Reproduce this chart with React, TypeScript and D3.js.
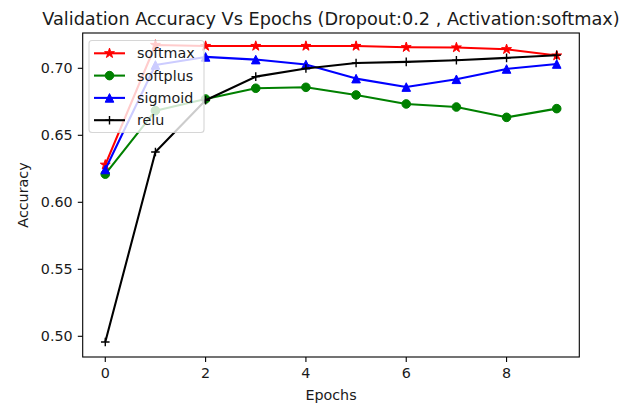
import React from "react";
import * as d3 from "d3";

// Validation accuracy per epoch for each output activation
const epochs = [0, 1, 2, 3, 4, 5, 6, 7, 8, 9];
const softmaxAcc = [0.628, 0.7174, 0.7166, 0.7166, 0.7166, 0.7166, 0.7157, 0.7155, 0.7142, 0.7095];
const softplusAcc = [0.621, 0.6684, 0.6771, 0.6851, 0.6858, 0.6801, 0.6734, 0.6711, 0.6634, 0.6699];
const sigmoidAcc = [0.6245, 0.7025, 0.7085, 0.7065, 0.7028, 0.6923, 0.686, 0.6918, 0.6995, 0.7032];
const reluAcc = [0.4958, 0.6375, 0.6762, 0.6938, 0.6998, 0.704, 0.7048, 0.706, 0.7078, 0.7098];

const seriesNames = ["softmax", "softplus", "sigmoid", "relu"];
const seriesValues = [softmaxAcc, softplusAcc, sigmoidAcc, reluAcc];
const seriesColors = ["#ff0000", "#008000", "#0000ff", "#000000"];
const seriesMarkers = ["star", "circle", "triangle", "plus"];

const xTicks = [0, 2, 4, 6, 8];
const yTicks = [0.5, 0.55, 0.6, 0.65, 0.7];

const titleText = "Validation Accuracy Vs Epochs (Dropout:0.2 , Activation:softmax)";
const xLabel = "Epochs";
const yLabel = "Accuracy";

const W = 639;
const H = 408;
const plot = { left: 82.7, right: 579.3, top: 33, bottom: 357 };
const FONT = "DejaVu Sans, sans-serif";
const LABEL_SIZE = 14.3;
const TEXT_COLOR = "#1a1a1a";

function starPath(r: number) {
  const inner = r * 0.381966;
  const pts: string[] = [];
  for (let i = 0; i < 10; i++) {
    const rad = i % 2 === 0 ? r : inner;
    const a = (i * Math.PI) / 5;
    pts.push(`${(rad * Math.sin(a)).toFixed(3)},${(-rad * Math.cos(a)).toFixed(3)}`);
  }
  return "M" + pts.join("L") + "Z";
}

function Marker({ kind, x, y, color }: { kind: string; x: number; y: number; color: string }) {
  const t = `translate(${x},${y})`;
  if (kind === "star") {
    return <path d={starPath(5.2)} transform={t} fill={color} stroke={color} strokeWidth={1} strokeLinejoin="miter" />;
  }
  if (kind === "circle") {
    return <circle cx={x} cy={y} r={4.3} fill={color} stroke={color} strokeWidth={1} />;
  }
  if (kind === "triangle") {
    const r = 4.3;
    return (
      <path d={`M0,${-r}L${r},${r}L${-r},${r}Z`} transform={t} fill={color} stroke={color} strokeWidth={1} />
    );
  }
  const r = 4.3;
  return <path d={`M${-r},0H${r}M0,${-r}V${r}`} transform={t} stroke={color} strokeWidth={1.4} fill="none" />;
}

export default function App() {
  const x = d3.scaleLinear().domain([-0.45, 9.45]).range([plot.left, plot.right]);
  const y = d3
    .scaleLinear()
    .domain([0.70 - (plot.bottom - 68.3) / 1340, 0.70 + (68.3 - plot.top) / 1340])
    .range([plot.bottom, plot.top]);

  const line = d3
    .line<number>()
    .x((_, i) => x(epochs[i]))
    .y((d) => y(d));

  const legend = { x: 89, y: 40.5, w: 115, h: 92 };

  return (
    <svg
      width={W}
      height={H}
      style={{ position: "absolute", left: 0, top: 0, background: "#fff" }}
      fontFamily={FONT}
    >
      <rect x={0} y={0} width={W} height={H} fill="#fff" />

      <text x={(plot.left + plot.right) / 2} y={25} textAnchor="middle" fontSize={17.7} fill={TEXT_COLOR}>
        {titleText}
      </text>

      {/* series */}
      {seriesValues.map((vals, si) => (
        <g key={seriesNames[si]}>
          <path d={line(vals) || ""} fill="none" stroke={seriesColors[si]} strokeWidth={2.08} strokeLinejoin="round" />
          {vals.map((v, i) => (
            <Marker key={i} kind={seriesMarkers[si]} x={x(epochs[i])} y={y(v)} color={seriesColors[si]} />
          ))}
        </g>
      ))}

      {/* frame */}
      <rect
        x={plot.left}
        y={plot.top}
        width={plot.right - plot.left}
        height={plot.bottom - plot.top}
        fill="none"
        stroke="#000"
        strokeWidth={1.1}
      />

      {/* x axis */}
      {xTicks.map((t) => (
        <g key={t} transform={`translate(${x(t)},${plot.bottom})`}>
          <line y1={0} y2={4.9} stroke="#000" strokeWidth={1.1} />
          <text y={21} textAnchor="middle" fontSize={LABEL_SIZE} fill={TEXT_COLOR}>
            {t}
          </text>
        </g>
      ))}
      <text x={(plot.left + plot.right) / 2} y={399.5} textAnchor="middle" fontSize={LABEL_SIZE} fill={TEXT_COLOR}>
        {xLabel}
      </text>

      {/* y axis */}
      {yTicks.map((t) => (
        <g key={t} transform={`translate(${plot.left},${y(t)})`}>
          <line x1={0} x2={-4.9} stroke="#000" strokeWidth={1.1} />
          <text x={-10} dy="0.36em" textAnchor="end" fontSize={LABEL_SIZE} fill={TEXT_COLOR}>
            {t.toFixed(2)}
          </text>
        </g>
      ))}
      <text
        transform={`translate(27.5,${(plot.top + plot.bottom) / 2}) rotate(-90)`}
        textAnchor="middle"
        fontSize={LABEL_SIZE}
        fill={TEXT_COLOR}
      >
        {yLabel}
      </text>

      {/* legend */}
      <rect
        x={legend.x}
        y={legend.y}
        width={legend.w}
        height={legend.h}
        rx={3}
        fill="#fff"
        fillOpacity={0.8}
        stroke="#cccccc"
        strokeOpacity={0.8}
        strokeWidth={1.1}
      />
      {seriesNames.map((name, i) => {
        const cy = 53.3 + i * 22.3;
        return (
          <g key={name}>
            <line x1={94} x2={125} y1={cy} y2={cy} stroke={seriesColors[i]} strokeWidth={2.08} />
            <Marker kind={seriesMarkers[i]} x={109.5} y={cy} color={seriesColors[i]} />
            <text x={137} y={cy} dy="0.36em" fontSize={LABEL_SIZE} fill={TEXT_COLOR}>
              {name}
            </text>
          </g>
        );
      })}
    </svg>
  );
}
